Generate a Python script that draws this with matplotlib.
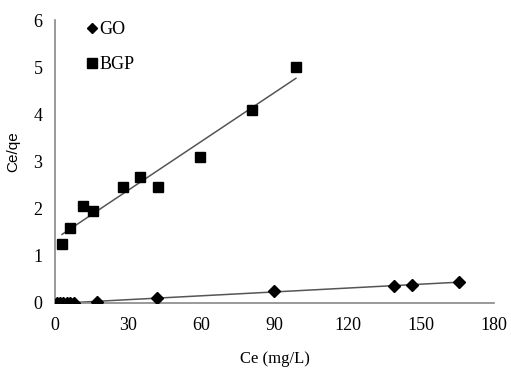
import numpy as np
import matplotlib.pyplot as plt

# GO isotherm data
go_ce = [0.8, 2.0, 3.3, 4.9, 6.1, 7.8, 17.2, 41.8, 90.0, 139.0, 146.3, 165.6]
go_ceqe = [0.0, 0.0, 0.0, 0.0, 0.0, 0.0, 0.03, 0.10, 0.25, 0.36, 0.38, 0.45]

# BGP isotherm data
bgp_ce = [2.9, 6.1, 11.5, 15.6, 27.9, 34.8, 42.2, 59.4, 80.7, 98.8]
bgp_ceqe = [1.25, 1.60, 2.05, 1.95, 2.47, 2.68, 2.47, 3.10, 4.10, 5.01]

xticks = [0, 30, 60, 90, 120, 150, 180]
yticks = [0, 1, 2, 3, 4, 5, 6]

serif = ['Liberation Serif', 'DejaVu Serif']

fig = plt.figure(figsize=(5.11, 3.73), dpi=100)
ax = fig.add_axes([0.1076, 0.1877, 0.859, 0.758])

# linear trendlines, like excel
for x, y in [(go_ce, go_ceqe), (bgp_ce, bgp_ceqe)]:
    k, b = np.polyfit(x, y, 1)
    xx = np.array([min(x), max(x)])
    ax.plot(xx, k * xx + b, color='#555555', lw=1.1, zorder=1)

ax.plot(go_ce, go_ceqe, 'D', color='black', markersize=6, label='GO', zorder=3)
ax.plot(bgp_ce, bgp_ceqe, 's', color='black', markersize=7.5, label='BGP', zorder=3)

ax.set_xlim(0, 180)
ax.set_ylim(0, 6)
ax.set_xticks(xticks)
ax.set_yticks(yticks)
ax.tick_params(length=0, labelsize=13)
ax.tick_params(axis='x', pad=10)
ax.tick_params(axis='y', pad=9)
for lab in ax.get_xticklabels() + ax.get_yticklabels():
    lab.set_family(serif)

for s in ['top', 'right']:
    ax.spines[s].set_visible(False)
for s in ['left', 'bottom']:
    ax.spines[s].set_color('#888888')
    ax.spines[s].set_linewidth(1.2)

ax.set_xlabel('Ce (mg/L)', family=serif, fontsize=12, labelpad=12)
ax.set_ylabel('Ce/qe', family=['Liberation Sans', 'DejaVu Sans'], fontsize=11)
ax.yaxis.set_label_coords(-0.078, 0.535)

ax.legend(loc='upper left', bbox_to_anchor=(0.035, 1.055), frameon=False,
          prop={'family': serif, 'size': 13}, handlelength=0.6,
          handletextpad=0.1, labelspacing=1.0, markerscale=0.9)

fig.savefig('out.png', dpi=100)
